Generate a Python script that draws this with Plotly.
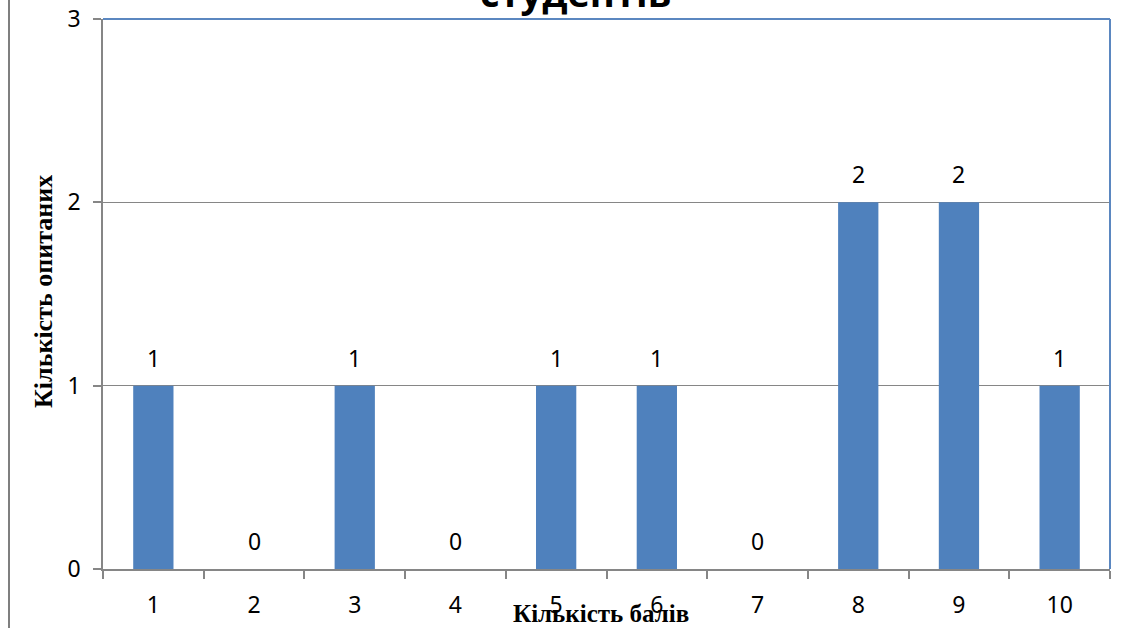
import plotly.graph_objects as go

categories = ["1", "2", "3", "4", "5", "6", "7", "8", "9", "10"]
counts = [1, 0, 1, 0, 1, 1, 0, 2, 2, 1]
y_ticks = [0, 1, 2, 3]
title_text = "студентів"
x_title = "Кількість балів"
y_title = "Кількість опитаних"

OFF = 0  # body margin removed via post_script
W, H = 1130, 628
L, T = 103 - OFF, 19 - OFF
R = W - (1110 - OFF)
B = H - (569 - OFF)
pw, ph = W - L - R, H - T - B


def px_x(page_x):
    return (page_x - OFF - L) / pw


def px_y(page_y):
    return (H - B - (page_y - OFF)) / ph


bar_color = "#4F81BD"
gray = "#868686"
num_font = dict(family="Noto Sans", size=23, color="#000000")

fig = go.Figure()
fig.add_trace(go.Bar(x=categories, y=counts, marker=dict(color=bar_color, line=dict(width=0)),
                     width=0.4, hoverinfo="skip"))

annotations = []
for i, v in enumerate(counts):
    annotations.append(dict(x=i, y=v, xref="x", yref="y", text=str(v), showarrow=False,
                            yshift=28, yanchor="middle", font=num_font))

annotations.append(dict(x=px_x(576), y=px_y(20), xref="paper", yref="paper", text=title_text,
                        showarrow=False, yanchor="bottom", xanchor="center",
                        font=dict(family="Open Sans", size=38, color="#000000", weight="bold")))
annotations.append(dict(x=px_x(601), y=px_y(613), xref="paper", yref="paper",
                        text=x_title, showarrow=False, xanchor="center", yanchor="middle",
                        font=dict(family="Liberation Serif", size=25, color="#000000", weight="bold")))
annotations.append(dict(x=px_x(43), y=px_y(292), xref="paper", yref="paper",
                        text=y_title, showarrow=False, textangle=-90, xanchor="center", yanchor="middle",
                        font=dict(family="Liberation Serif", size=26, color="#000000", weight="bold")))

shapes = [
    dict(type="line", xref="paper", yref="paper", x0=0, x1=1, y0=1, y1=1,
         line=dict(color="#5B87C0", width=2)),
    dict(type="line", xref="paper", yref="paper", x0=1, x1=1, y0=0, y1=1,
         line=dict(color="#5B87C0", width=2)),
    dict(type="line", xref="paper", yref="paper", x0=px_x(9), x1=px_x(9),
         y0=px_y(640), y1=px_y(-5),
         line=dict(color="#7F7F7F", width=2)),
]

fig.update_layout(
    width=W, height=H,
    margin=dict(l=L, r=R, t=T, b=B, autoexpand=False),
    paper_bgcolor="white", plot_bgcolor="white",
    showlegend=False,
    bargap=0.6,
    annotations=annotations,
    shapes=shapes,
)
fig.update_xaxes(type="category", range=[-0.5, 9.5], tickson="boundaries", ticks="outside", ticklen=8,
                 tickcolor=gray, tickwidth=1.5, showline=True, linecolor=gray, linewidth=1.5,
                 showgrid=False, tickfont=num_font, ticklabelstandoff=15, fixedrange=True,
                 automargin=False, ticklabeloverflow="allow")
fig.update_yaxes(range=[0, 3], tickvals=y_ticks, ticks="outside", ticklen=8, tickcolor=gray,
                 tickwidth=1.5, showline=True, linecolor=gray, linewidth=1.5,
                 showgrid=True, gridcolor=gray, gridwidth=1, zeroline=False,
                 tickfont=num_font, ticklabelstandoff=8, fixedrange=True, automargin=False,
                 ticklabeloverflow="allow")

fig.write_html("out.html", config={"displayModeBar": False},
               post_script="document.body.style.margin='0';")
